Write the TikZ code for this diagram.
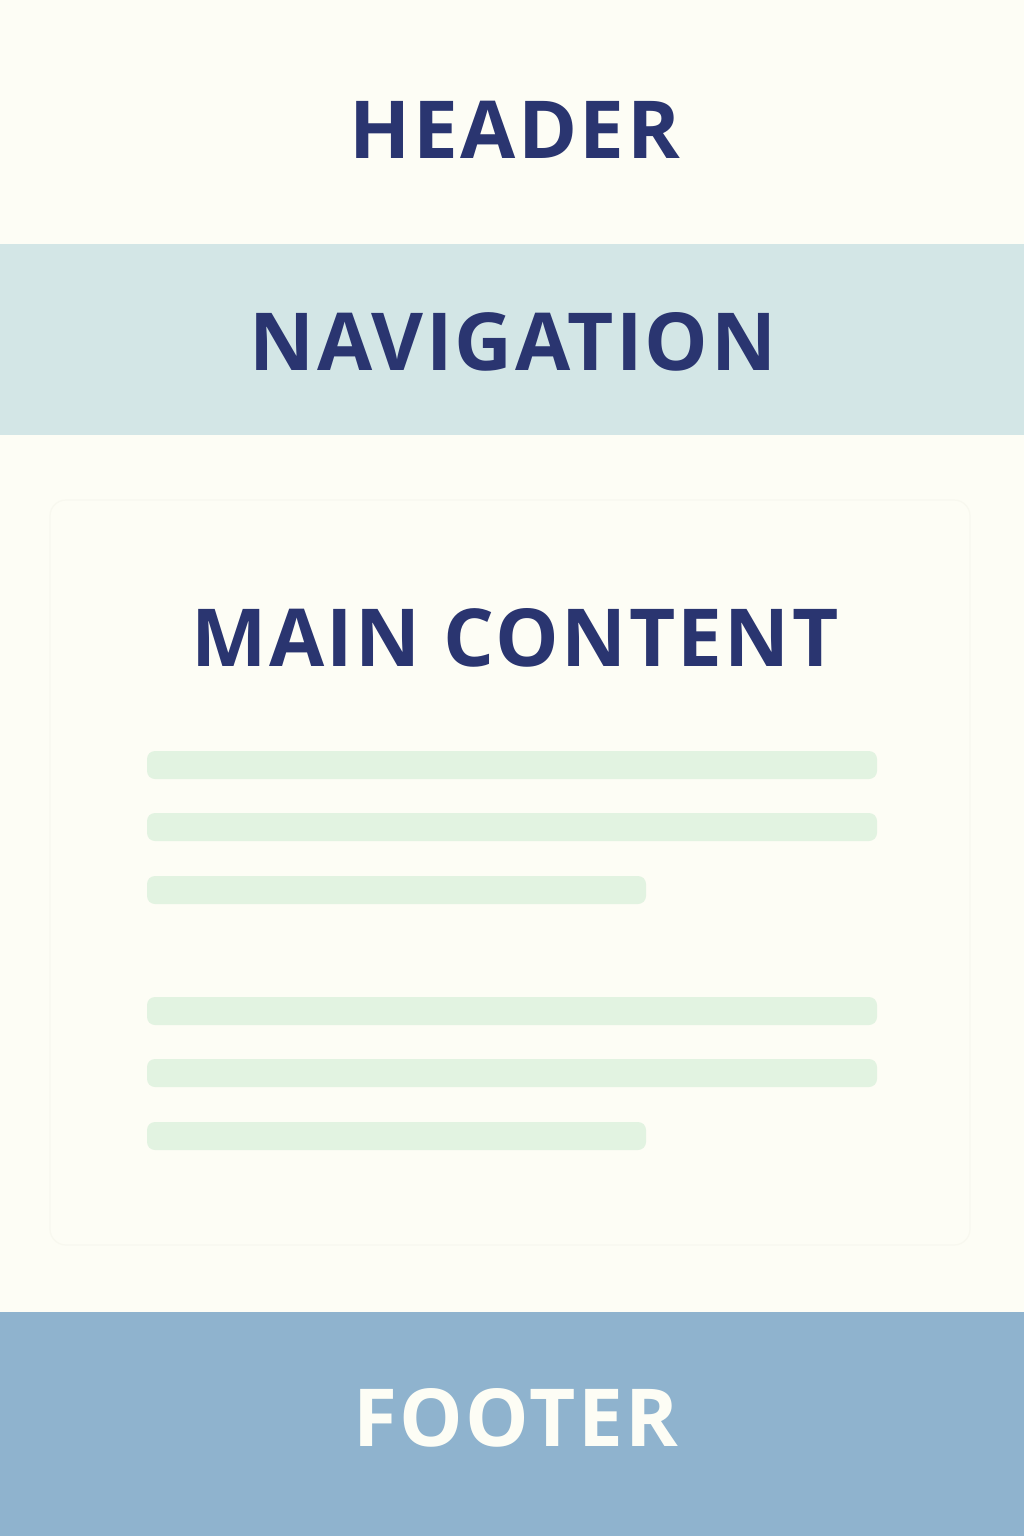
\documentclass[tikz,border=0pt]{standalone}
\usepackage{fontspec}
\setmainfont{Open Sans}[BoldFont={Open Sans Bold}]
\definecolor{pagebg}{HTML}{FDFDF5}
\definecolor{navbg}{HTML}{D3E6E6}
\definecolor{footbg}{HTML}{8FB3CE}
\definecolor{ink}{HTML}{2A3570}
\definecolor{textline}{HTML}{E2F3E1}
\definecolor{panel}{HTML}{F8F8EF}
\newfontfamily\titlefont{Open Sans Bold}[LetterSpace=3]
\tikzset{
  title/.style={font=\titlefont\fontsize{40}{40}\selectfont, text=ink, inner sep=0pt, anchor=base},
  bar/.style={fill=textline, rounded corners=4pt},
}
\begin{document}
\begin{tikzpicture}[x=0.5pt, y=-0.5pt]
  % page and bands
  \fill[pagebg] (0,0) rectangle (1024,1536);
  \useasboundingbox (0,0) rectangle (1024,1536);
  \fill[navbg] (0,244) rectangle (1024,435);
  \fill[footbg] (0,1312) rectangle (1024,1536);
  % faint content panel
  \draw[panel, line width=0.6pt, rounded corners=8pt] (50,500) rectangle (970,1245);
  % section titles
  \node[title] (header) at (515,158) {HEADER};
  \node[title] (nav) at (513,370) {NAVIGATION};
  \node[title] (main) at (515,666) {MAIN CONTENT};
  \node[title, text=pagebg] (footer) at (516,1446) {FOOTER};
  % placeholder text lines
  \foreach \y in {751,813,997,1059} {
    \fill[bar] (147,\y) rectangle (877,\y+28);
  }
  \foreach \y in {876,1122} {
    \fill[bar] (147,\y) rectangle (646,\y+28);
  }
\end{tikzpicture}
\end{document}
